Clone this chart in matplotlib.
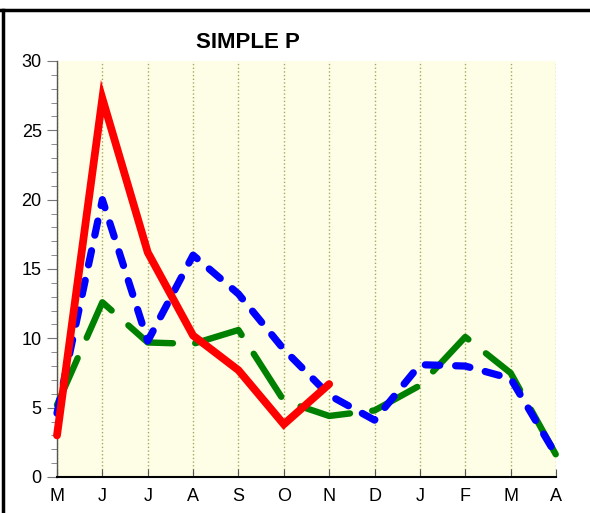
import matplotlib
matplotlib.use('Agg')
import matplotlib.pyplot as plt
from matplotlib.lines import Line2D
from matplotlib.ticker import MultipleLocator

plt.rcParams['font.family'] = ['Liberation Sans', 'DejaVu Sans']

# data
months = ['M', 'J', 'J', 'A', 'S', 'O', 'N', 'D', 'J', 'F', 'M', 'A']
red_vals = [3.0, 27.3, 16.2, 10.2, 7.7, 3.8, 6.7]
blue_vals = [4.6, 20.0, 9.8, 16.0, 13.2, 9.2, 5.9, 4.1, 8.1, 8.0, 7.1, 1.6]
green_vals = [5.2, 12.6, 9.7, 9.6, 10.6, 5.5, 4.4, 4.8, 6.6, 10.1, 7.5, 1.6]

fig = plt.figure(figsize=(5.9, 5.13), dpi=100)
ax = fig.add_axes([0.0966, 0.0702, 0.8458, 0.8109])
ax.set_facecolor('#FEFEE6')

x = list(range(len(months)))

ax.plot(x[:len(green_vals)], green_vals, color='#008000', linewidth=4.6,
        dashes=(8, 3.5), dash_capstyle='round', solid_capstyle='round', zorder=3, clip_on=False)
ax.plot(x[:len(blue_vals)], blue_vals, color='#0000FF', linewidth=5.2,
        dashes=(2.0, 2.2), dash_capstyle='round', zorder=4, clip_on=False)
ax.plot(x[:len(red_vals)], red_vals, color='#FF0000', linewidth=5.6,
        solid_capstyle='round', solid_joinstyle='miter', zorder=5, clip_on=False)

ax.set_xlim(0, len(months) - 1)
ax.set_ylim(0, 30)
ax.set_xticks(x)
ax.set_xticklabels(months)
ax.yaxis.set_major_locator(MultipleLocator(5))
ax.yaxis.set_minor_locator(MultipleLocator(1))

ax.grid(True, axis='x', color='#A8A860', linestyle=':', linewidth=1.0)
ax.set_axisbelow(True)

for s in ['top', 'right']:
    ax.spines[s].set_visible(False)
ax.spines['left'].set_color('#555555')
ax.spines['left'].set_linewidth(1.0)
ax.spines['bottom'].set_color('black')
ax.spines['bottom'].set_linewidth(1.5)

ax.tick_params(axis='y', which='major', direction='out', length=7, color='#777777',
               labelsize=13, pad=4)
ax.tick_params(axis='y', which='minor', direction='out', length=4, color='#777777')
ax.tick_params(axis='x', direction='in', length=6, color='#555555', labelsize=13, pad=8)

fig.text(0.42, 0.918, 'SIMPLE P', ha='center', va='center', fontsize=16,
         fontweight='bold')

# black frame at top and left
fig.add_artist(Line2D([0, 1], [0.981, 0.981], color='black', linewidth=2.5,
                      transform=fig.transFigure))
fig.add_artist(Line2D([0.0055, 0.0055], [0, 0.981], color='black', linewidth=2.5,
                      transform=fig.transFigure))

plt.savefig('out.png', dpi=100, facecolor='white')
